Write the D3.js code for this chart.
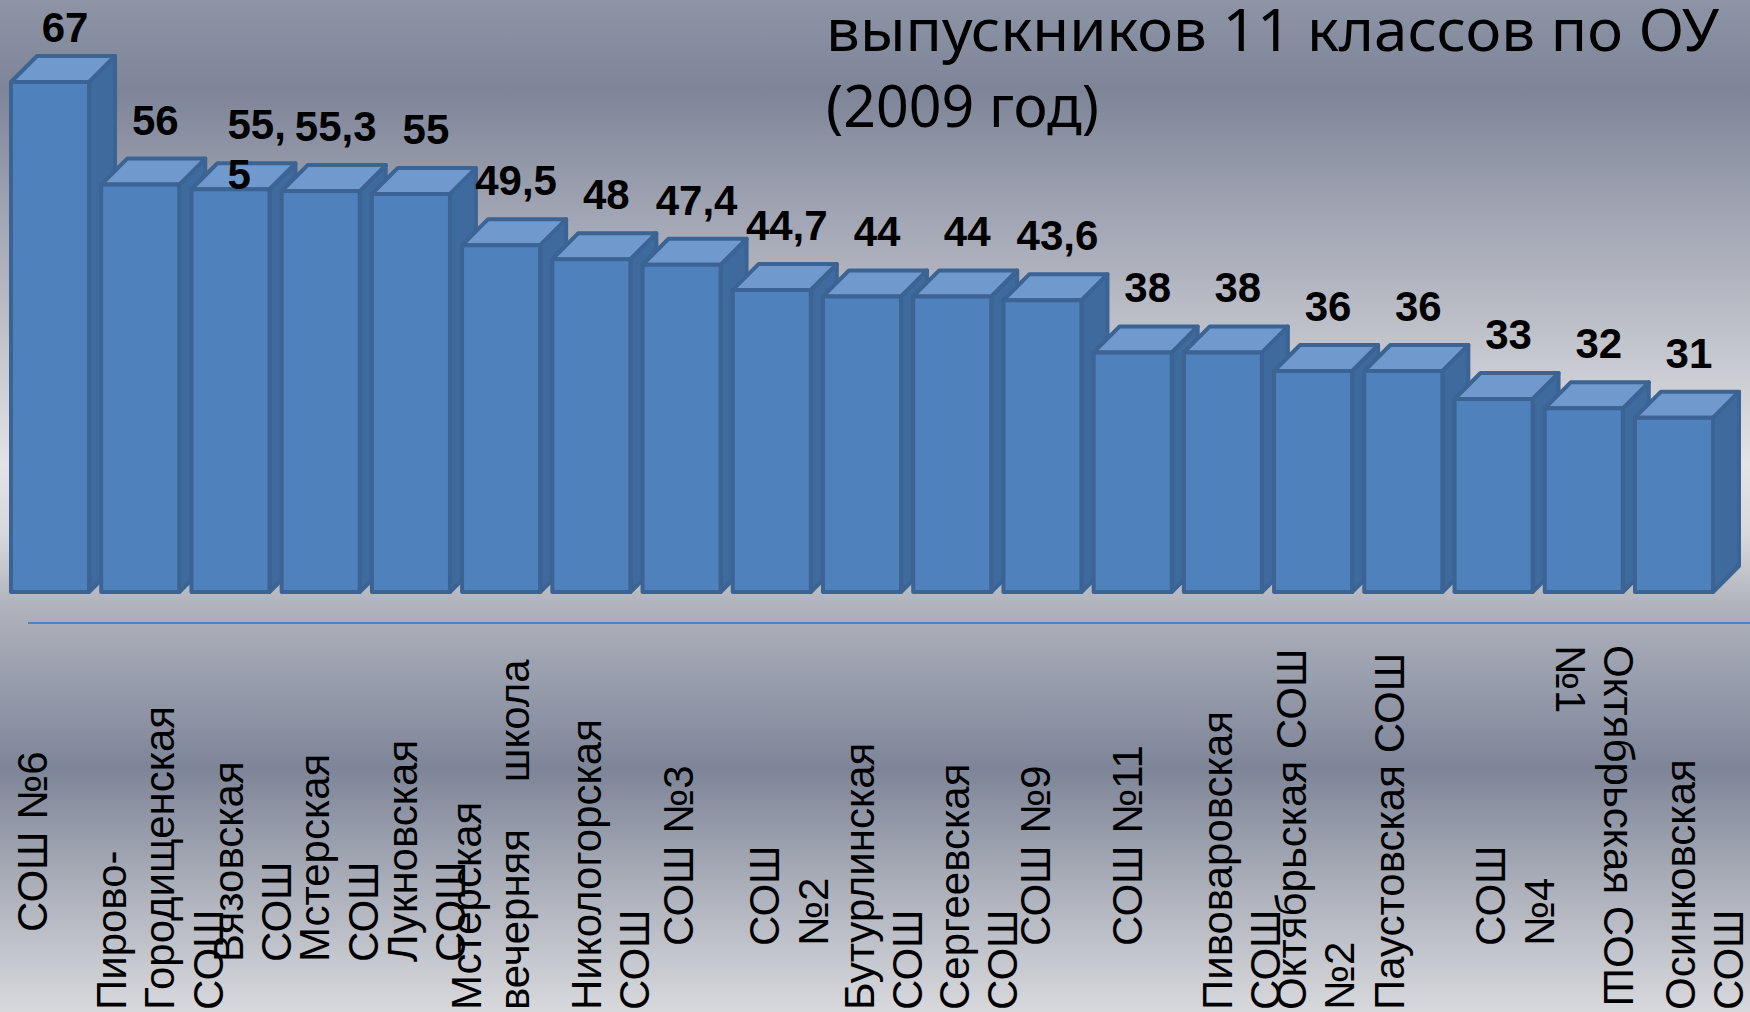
<!DOCTYPE html>
<html lang="ru">
<head>
<meta charset="utf-8">
<title>Выпускники 11 классов по ОУ (2009 год)</title>
<script src="https://cdn.jsdelivr.net/npm/d3@7"></script>
<style>
    body { margin: 0; overflow: hidden; }
    .title { font-family: "Noto Sans", "Open Sans", sans-serif; font-size: 58px; fill: #000; }
    .value-label { font-family: "Liberation Sans Narrow", "Liberation Sans", sans-serif; font-weight: bold; font-size: 42px; fill: #000; }
    .cat-label { font-family: "Liberation Sans", Arial, sans-serif; font-size: 42px; fill: #000; white-space: pre; }
</style>
</head>
<body>
<div id="chart"></div>
<script>

// school names, "\n" = line break as on the slide
var schools = [
    "СОШ №6",
    "Пирово-\nГородищенская\nСОШ",
    "Вязовская\nСОШ",
    "Мстерская\nСОШ",
    "Лукновская\nСОШ",
    "Мстерская\nвечерняя    школа",
    "Никологорская\nСОШ",
    "СОШ №3",
    "СОШ\n№2",
    "Бутурлинская\nСОШ",
    "Сергеевская\nСОШ",
    "СОШ №9",
    "СОШ №11",
    "Пивоваровская\nСОШ",
    "Октябрьская СОШ\n№2",
    "Паустовская СОШ",
    "СОШ\n№4",
    "Октябрьская СОШ\n№1",
    "Осинковская\nСОШ"
];

var scores = [67, 56, 55.5, 55.3, 55, 49.5, 48, 47.4, 44.7, 44, 44, 43.6, 38, 38, 36, 36, 33, 32, 31];

var titleLines = ["выпускников 11 классов по ОУ", "(2009 год)"];

// layout of the rotated names (offset of first line from bar centre, start of text)
var labelShift = [-18, -29, -2, -6, -9, -35, -5, -3, -7, -3, 2, -7, -5, -6, -22, -14, -3, 35, 6];
var labelStart = [932, 1010, 962, 962, 962, 1010, 1010, 946, 946, 1010, 1010, 946, 946, 1010, 1010, 1010, 946, 645, 1010];
var flippedLabel = 17;   // this one is turned the other way
var wrappedValue = 2;    // "55,5" breaks after the comma

var width = 1750,
    height = 1012;

var baseY = 592,
    depth = 26;

var svg = d3.select("#chart").append("svg")
    .attr("width", width)
    .attr("height", height);

// background
var defs = svg.append("defs");
var bg = defs.append("linearGradient")
    .attr("id", "bg")
    .attr("x1", 0).attr("y1", 0)
    .attr("x2", 0).attr("y2", 1);

[
    [0, "#8d94a6"], [0.09, "#7e8598"], [0.2, "#9ea2b1"], [0.33, "#c0c2ca"],
    [0.46, "#e3e3e6"], [0.53, "#d6d7db"], [0.6, "#afb2bb"], [0.68, "#969bab"],
    [0.76, "#7e8598"], [0.87, "#a9adb8"], [1, "#d8d9dd"]
].forEach(function(s){
    bg.append("stop").attr("offset", s[0]).attr("stop-color", s[1]);
});

svg.append("rect")
    .attr("width", width)
    .attr("height", height)
    .attr("fill", "url(#bg)");

// title (first line of it is off the slide)
svg.selectAll(".title")
    .data(titleLines)
    .enter().append("text")
    .attr("class", "title")
    .attr("x", 826)
    .attr("y", function(d, i){ return 51 + i * 76; })
    .attr("textLength", function(d, i){ return i == 0 ? 893 : 273; })
    .attr("lengthAdjust", "spacingAndGlyphs")
    .text(function(d){ return d; });

// scales
var x = d3.scaleBand()
    .domain(schools)
    .range([11, 1713])
    .paddingInner(0.135)
    .paddingOuter(0);

var y = d3.scaleLinear()
    .domain([12.3, d3.max(scores)])
    .range([baseY, 82]);

var bw = x.bandwidth();

// 3d columns: side, top, front
var bars = svg.selectAll(".bar")
    .data(scores)
    .enter().append("g")
    .attr("class", "bar");

bars.append("polygon")
    .attr("points", function(d, i){
        var x1 = x(schools[i]) + bw, t = y(d);
        return [[x1, baseY], [x1 + depth, baseY - depth], [x1 + depth, t - depth], [x1, t]].join(" ");
    })
    .attr("fill", "#3f6a9e");

bars.append("polygon")
    .attr("points", function(d, i){
        var x0 = x(schools[i]), t = y(d);
        return [[x0, t], [x0 + depth, t - depth], [x0 + bw + depth, t - depth], [x0 + bw, t]].join(" ");
    })
    .attr("fill", "#7099cd");

bars.append("rect")
    .attr("x", function(d, i){ return x(schools[i]); })
    .attr("y", function(d){ return y(d); })
    .attr("width", bw)
    .attr("height", function(d){ return baseY - y(d); })
    .attr("fill", "#4f81bd");

bars.selectAll("polygon, rect")
    .attr("stroke", "#3b6393")
    .attr("stroke-width", 4)
    .attr("stroke-linejoin", "round");

// value labels
var fmt = function(v){ return d3.format("~f")(v).replace(".", ","); };

bars.each(function(d, i){
    var cx = x(schools[i]) + bw / 2 + depth / 2 + 2;
    var by = Math.max(y(d) - depth - 24, 42);
    var label = d3.select(this).append("text")
        .attr("class", "value-label")
        .attr("x", cx)
        .attr("y", by);

    if (i == wrappedValue) {
        var parts = fmt(d).split(",");
        label.attr("x", cx - 18);
        label.append("tspan").attr("x", cx - 18).text(parts[0] + ",");
        label.append("tspan").attr("x", cx - 18).attr("dy", 50).text(parts[1]);
    } else {
        label.attr("text-anchor", "middle").text(fmt(d));
    }
});

// blue rule under the columns
svg.append("line")
    .attr("x1", 28)
    .attr("x2", width)
    .attr("y1", 623)
    .attr("y2", 623)
    .attr("stroke", "#4f81bd")
    .attr("stroke-width", 2);

// rotated school names
schools.forEach(function(name, i){
    var cx = x(name) + bw / 2 + labelShift[i];
    var angle = i == flippedLabel ? 90 : -90;

    var t = svg.append("text")
        .attr("class", "cat-label")
        .attr("transform", "translate(" + cx + "," + labelStart[i] + ") rotate(" + angle + ")");

    name.split("\n").forEach(function(line, j){
        t.append("tspan")
            .attr("x", 0)
            .attr("dy", j == 0 ? "0.35em" : "1.15em")
            .text(line);
    });
});

</script>
</body>
</html>
